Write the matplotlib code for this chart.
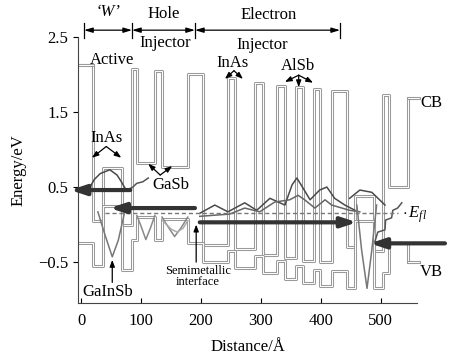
import numpy as np
import matplotlib
matplotlib.use('Agg')
import matplotlib.pyplot as plt
import matplotlib.patheffects as pe

plt.rcParams['font.family'] = ['Liberation Serif', 'DejaVu Serif']
plt.rcParams['mathtext.fontset'] = 'custom'
plt.rcParams['mathtext.it'] = 'Liberation Serif:italic'
plt.rcParams['mathtext.rm'] = 'Liberation Serif'

# conduction band: layer edges (A) and band level in each layer (eV)
cb_edges = [-5, 20, 37, 68, 85, 93, 123, 135, 178, 203, 245, 257, 290, 303, 327,
            340, 358, 370, 388, 398, 418, 443, 457, 488, 503, 513, 545, 560]
cb_level = [2.12, 0.05, 0.75, 0.0, 2.07, 0.82, 2.05, 0.77, 2.01, -0.27, 1.95, -0.33,
            1.89, -0.40, 1.85, -0.45, 1.83, -0.48, 1.80, -0.50, 1.78, -0.30, 0.38,
            -0.35, 1.73, 0.50, 1.69]

# valence band: same layers
vb_level = [-0.25, -0.55, 0.25, -0.60, -0.20, 0.10, -0.20, 0.08, -0.25, -0.50, -0.35,
            -0.58, -0.42, -0.65, -0.48, -0.72, -0.55, -0.78, -0.60, -0.82, -0.62,
            -0.85, 0.05, -0.85, -0.65, -0.25, -0.50]

# wavefunctions
wf_e_w_x = [12, 22, 32, 48, 60, 68, 75]
wf_e_w_y = [0.46, 0.60, 0.68, 0.73, 0.66, 0.56, 0.46]
wf_h_gainsb_x = [28, 40, 52, 62, 72]
wf_h_gainsb_y = [0.17, -0.14, -0.43, -0.21, 0.14]
wf_h1_x = [93, 100, 108, 116, 123]
wf_h1_y = [0.12, -0.02, -0.20, -0.04, 0.12]
wf_h2_x = [135, 146, 156, 167, 178]
wf_h2_y = [0.10, -0.04, -0.16, -0.04, 0.10]
wf_h3_x = [135, 150, 160, 170, 178]
wf_h3_y = [0.06, -0.06, -0.10, -0.05, 0.05]
wf_e1_x = [198, 223, 245, 273, 293, 315, 340, 352, 360, 370, 382, 398, 410, 423, 440, 457]
wf_e1_y = [0.15, 0.26, 0.17, 0.29, 0.19, 0.35, 0.26, 0.53, 0.62, 0.49, 0.33, 0.46,
           0.50, 0.35, 0.26, 0.19]
wf_e2_x = [198, 248, 273, 298, 323, 348, 362, 373, 390, 407, 418, 448, 465]
wf_e2_y = [0.11, 0.14, 0.22, 0.17, 0.30, 0.33, 0.39, 0.33, 0.22, 0.33, 0.26, 0.19, 0.17]
wf_e3_x = [448, 465, 485, 507]
wf_e3_y = [0.35, 0.46, 0.43, 0.26]
wf_h4_x = [460, 468, 477, 485, 493]
wf_h4_y = [0.26, -0.34, -0.85, -0.34, 0.26]
stair1_x = [490, 495, 507, 508, 518, 520, 528, 535]
stair1_y = [-0.23, -0.10, -0.07, 0.06, 0.09, 0.19, 0.22, 0.29]
stair2_x = [73, 85, 93, 103, 112]
stair2_y = [0.46, 0.49, 0.55, 0.57, 0.62]

# thick transport arrows: level, tail, head
arrow_e = [0.46, 0.22, 0.03, -0.25]
arrow_tail = [82, 190, 198, 607]
arrow_head = [-18, 48, 460, 482]

e_fl = 0.15
e_fl_span = [40, 528]

# region brackets on top
region_edges = [5, 85, 190, 432]

fig = plt.figure(figsize=(4.54, 3.55), dpi=100)
ax = fig.add_axes([0.172, 0.146, 0.746, 0.75])
ax.set_xlim(-5, 560)
ax.set_ylim(-1.047, 2.5)

band_c = '#9a9a9a'
hollow = [pe.Stroke(linewidth=2.2, foreground=band_c), pe.Stroke(linewidth=0.7, foreground='white')]
ax.step(cb_edges, cb_level + [cb_level[-1]], where='post', color=band_c, lw=2.2,
        path_effects=hollow)
ax.step(cb_edges, vb_level + [vb_level[-1]], where='post', color=band_c, lw=2.2,
        path_effects=hollow)

wf_c = '#4a4a4a'
for xs, ys, c in [(wf_e_w_x, wf_e_w_y, wf_c), (wf_h_gainsb_x, wf_h_gainsb_y, '#777'),
                  (wf_h1_x, wf_h1_y, '#888'), (wf_h2_x, wf_h2_y, '#888'),
                  (wf_h3_x, wf_h3_y, '#aaa'), (wf_e1_x, wf_e1_y, wf_c),
                  (wf_e2_x, wf_e2_y, '#666'), (wf_e3_x, wf_e3_y, wf_c),
                  (wf_h4_x, wf_h4_y, '#777'), (stair1_x, stair1_y, '#555'),
                  (stair2_x, stair2_y, '#555')]:
    ax.plot(xs, ys, color=c, lw=1.1)

ax.plot(e_fl_span, [e_fl, e_fl], color='#777', lw=1.0, ls=(0, (3, 2)))

for e, t, h in zip(arrow_e, arrow_tail, arrow_head):
    ax.annotate('', xy=(h, e), xytext=(t, e), annotation_clip=False,
                arrowprops=dict(arrowstyle='-|>,head_length=0.9,head_width=0.3',
                                lw=3, color='#333', shrinkA=0, shrinkB=0))

# top brackets
top_e = 2.59
for a, b in zip(region_edges[:-1], region_edges[1:]):
    ax.annotate('', xy=(a, top_e), xytext=(b, top_e), annotation_clip=False,
                arrowprops=dict(arrowstyle='<|-|>,head_length=0.5,head_width=0.15',
                                lw=0.9, color='k', shrinkA=0, shrinkB=0))
for a in region_edges:
    ax.plot([a, a], [top_e - 0.1, top_e + 0.1], color='k', lw=0.9, clip_on=False)

fs = 12
ax.text(45, 2.83, "\u2018W\u2019", style='italic', fontsize=fs, ha='center', va='center')
ax.text(137, 2.81, 'Hole', fontsize=fs, ha='center', va='center')
ax.text(140, 2.42, 'Injector', fontsize=fs, ha='center', va='center')
ax.text(313, 2.79, 'Electron', fontsize=fs, ha='center', va='center')
ax.text(302, 2.39, 'Injector', fontsize=fs, ha='center', va='center')
ax.text(52, 2.19, 'Active', fontsize=fs, ha='center', va='center')
ax.plot([-3, 20], [2.12, 2.12], color=band_c, lw=2.2, path_effects=hollow)
ax.text(585, 1.62, 'CB', fontsize=fs, ha='center', va='center', clip_on=False)
ax.plot([545, 563], [1.69, 1.69], color=band_c, lw=2.2, clip_on=False, path_effects=hollow)
ax.text(585, -0.63, 'VB', fontsize=fs, ha='center', va='center', clip_on=False)
ax.plot([545, 563], [-0.5, -0.5], color=band_c, lw=2.2, clip_on=False, path_effects=hollow)
ax.text(556, 0.13, r'$\cdot\,E_{fl}$', fontsize=fs, ha='center', va='center')

arr = dict(arrowstyle='-|>,head_length=0.4,head_width=0.15', lw=0.9, color='k',
           shrinkA=0, shrinkB=0)
ax.text(42, 1.15, 'InAs', fontsize=fs, ha='center', va='center')
for end in [(18, 0.89), (67, 0.89)]:
    ax.annotate('', xy=end, xytext=(42, 1.04), arrowprops=arr)
ax.text(150, 0.53, 'GaSb', fontsize=fs, ha='center', va='center')
for end in [(112, 0.81), (152, 0.78)]:
    ax.annotate('', xy=end, xytext=(132, 0.66), arrowprops=arr)
ax.text(253, 2.15, 'InAs', fontsize=fs, ha='center', va='center')
for end in [(240, 1.94), (270, 1.94)]:
    ax.annotate('', xy=end, xytext=(255, 2.05), arrowprops=arr)
ax.text(362, 2.11, 'AlSb', fontsize=fs, ha='center', va='center')
for end in [(340, 1.9), (363, 1.83), (387, 1.89)]:
    ax.annotate('', xy=end, xytext=(363, 1.99), arrowprops=arr)
ax.text(45, -0.9, 'GaInSb', fontsize=fs, ha='center', va='center')
ax.annotate('', xy=(52, -0.47), xytext=(52, -0.77), arrowprops=arr)
ax.text(195, -0.69, 'Semimetallic\ninterface', fontsize=9, ha='center', va='center',
        linespacing=0.85)
ax.annotate('', xy=(192, 0.0), xytext=(192, -0.5), arrowprops=arr)

ax.spines['top'].set_visible(False)
ax.spines['right'].set_visible(False)
ax.spines['left'].set_color('#444')
ax.spines['bottom'].set_color('#444')
ax.set_xticks([0, 100, 200, 300, 400, 500])
ax.set_yticks([-0.5, 0.5, 1.5, 2.5])
ax.set_yticklabels(['\u22120.5', '0.5', '1.5', '2.5'])
ax.tick_params(axis='x', direction='in', labelsize=fs, pad=7)
ax.tick_params(axis='y', direction='out', labelsize=fs)
ax.set_xlabel('Distance/\u00c5', fontsize=fs, labelpad=7)
ax.set_ylabel('Energy/eV', fontsize=fs, labelpad=8)

fig.savefig('out.png', dpi=100)
